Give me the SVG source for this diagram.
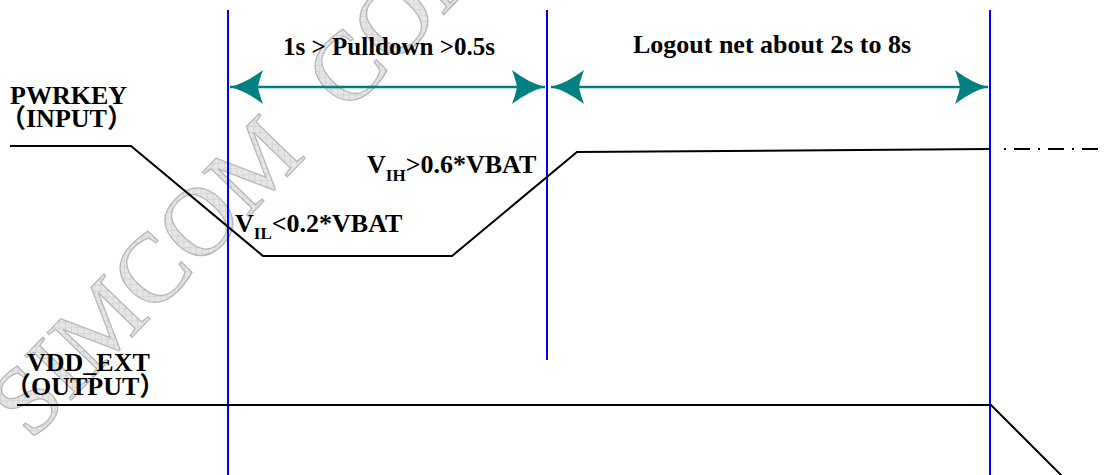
<svg xmlns="http://www.w3.org/2000/svg" width="1107" height="475" viewBox="0 0 1107 475">
<style>
.lbl{font-family:"Liberation Serif","Noto Sans CJK SC",serif;font-weight:bold;font-size:26px;fill:#000}
.t25{font-size:25px}
.sub{font-size:17px}
.blue{stroke:#0000ff;stroke-width:2;fill:none}
.sig{stroke:#000;stroke-width:2;fill:none}
.dim{stroke:#008080;stroke-width:2.5;fill:none}
.wm{font-family:"Liberation Serif",serif;font-size:98px;fill:url(#hatch);stroke:#b8b8b8;stroke-width:1.3}
</style>
<defs>
<pattern id="hatch" width="6" height="6" patternUnits="userSpaceOnUse" patternTransform="rotate(45)">
<rect width="6" height="6" fill="#e6e6e6"/>
<path d="M0,0 L0,6 M0,0 L6,0" stroke="#c6c6c6" stroke-width="1"/>
</pattern>
<marker id="ah" markerUnits="userSpaceOnUse" markerWidth="40" markerHeight="40" viewBox="-36 -20 40 40" refX="0" refY="0" orient="auto-start-reverse">
<path d="M0,0 Q-16,-4 -33,-17 Q-29,-6 -28,0 Q-29,6 -33,17 Q-16,4 0,0 Z" fill="#008080"/>
</marker>
</defs>
<g id="watermark">
<text class="wm" transform="translate(31,442) rotate(-46)"><tspan x="0">SIMCOM</tspan><tspan x="455">CONFIDENTIAL</tspan></text>
</g>
<g id="connectors">
<line class="blue" x1="228" y1="10" x2="228" y2="475"/>
<line class="blue" x1="547" y1="10" x2="547" y2="360"/>
<line class="blue" x1="990" y1="10" x2="990" y2="475"/>
<line class="dim" x1="230" y1="87" x2="545" y2="87" marker-start="url(#ah)" marker-end="url(#ah)"/>
<line class="dim" x1="551" y1="87" x2="988" y2="87" marker-start="url(#ah)" marker-end="url(#ah)"/>
</g>
<g id="pwrkey">
<polyline class="sig" points="10,146 131,146 263,256 452,256 577,152 990,149"/>
<line class="sig" x1="990" y1="149" x2="1107" y2="149" stroke-dasharray="0 14 2 8 16 8 2 8 16 8 2 8 16 8"/>
<text class="lbl" x="10" y="104">PWRKEY</text>
<text class="lbl" x="0" y="127">（INPUT）</text>
</g>
<g id="vdd_ext">
<polyline class="sig" points="17,405 991,405 1062,476"/>
<text class="lbl" x="27" y="371">VDD_EXT</text>
<text class="lbl" x="5" y="395">（OUTPUT）</text>
</g>
<g id="vil">
<text class="lbl" x="235" y="232">V<tspan class="sub" dy="7">IL</tspan><tspan dy="-7">&lt;0.2*VBAT</tspan></text>
</g>
<g id="vih">
<text class="lbl" x="367" y="173">V<tspan class="sub" dy="8">IH</tspan><tspan dy="-8">&gt;0.6*VBAT</tspan></text>
</g>
<g id="pulldown">
<text class="lbl t25" x="389" y="55" text-anchor="middle">1s &gt; Pulldown &gt;0.5s</text>
</g>
<g id="logout">
<text class="lbl" x="772" y="53" text-anchor="middle">Logout net about 2s to 8s</text>
</g>
</svg>
